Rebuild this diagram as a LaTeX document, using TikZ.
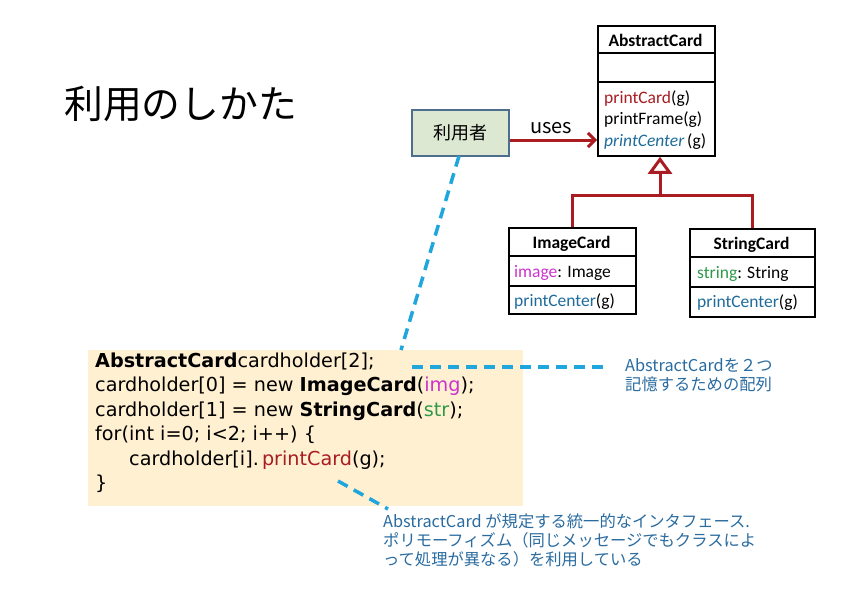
\documentclass[tikz,border=0pt]{standalone}
\usepackage{fontspec}
\setmainfont{Carlito}
\newfontfamily\jp{Noto Sans CJK JP}
\newfontfamily\codefont{DejaVu Sans}
\usetikzlibrary{arrows.meta}
\definecolor{umlred}{HTML}{A81C22}
\definecolor{mblue}{HTML}{1F6C9C}
\definecolor{dashblue}{HTML}{1EA6DD}
\definecolor{notecol}{HTML}{2A6CA0}
\definecolor{mag}{HTML}{CC33CC}
\definecolor{grn}{HTML}{2E9949}
\definecolor{codebg}{HTML}{FFF0D2}
\definecolor{userbg}{HTML}{DDE8D3}
\definecolor{userbd}{HTML}{4E6E8E}
\begin{document}
\begin{tikzpicture}[x=1pt,y=-1pt,
  umlbox/.style={draw=black, line width=1.8pt, inner sep=0pt, anchor=north west},
  divider/.style={draw=black, line width=1.8pt},
  umltxt/.style={inner sep=0pt, anchor=base west, font=\fontsize{17.5}{20}\selectfont},
  umltitle/.style={inner sep=0pt, anchor=base, font=\bfseries\fontsize{17.5}{20}\selectfont},
  codeline/.style={inner sep=0pt, anchor=base west, font=\codefont\fontsize{19.2}{22}\selectfont},
  noteline/.style={inner sep=0pt, anchor=base west, text=notecol, font=\jp\fontsize{16.3}{19}\selectfont},
  relline/.style={draw=umlred, line width=3pt},
  hint/.style={draw=dashblue, line width=3.5pt, dash pattern=on 11pt off 7pt}
]
\useasboundingbox (0,0) rectangle (842,595);
\fill[white] (0,0) rectangle (842,595);

% title
\node[inner sep=0pt, anchor=base west, font=\jp\fontsize{38.8}{42}\selectfont] (title) at (64,118) {利用のしかた};

% user
\node[draw=userbd, fill=userbg, line width=1.5pt, minimum width=97pt, minimum height=46pt, inner sep=0pt, anchor=north west, font=\jp\fontsize{18}{20}\selectfont] (user) at (411,109) {利用者};

% AbstractCard
\node[umlbox, minimum width=117pt, minimum height=130pt] (abs) at (597,25) {};
\draw[divider] (597,53) -- (714,53);
\draw[divider] (597,82) -- (714,82);
\node[umltitle] (absname) at (655.5,46) {AbstractCard};
\node[umltxt] (absm1) at (604,103) {\textcolor{umlred}{printCard}(g)};
\node[umltxt] (absm2) at (604,124.5) {printFrame(g)};
\node[umltxt] (absm3) at (604,146) {\textcolor{mblue}{\itshape printCenter}\,(g)};

% uses arrow
\coordinate (usesend) at (597,140);
\draw[relline, -{Straight Barb[length=7pt,width=14pt,line width=3pt]}] (user.east |- usesend) -- (usesend);
\node[inner sep=0pt, anchor=base, font=\jp\fontsize{20}{22}\selectfont] (uses) at (551,133) {uses};

% ImageCard
\node[umlbox, minimum width=127pt, minimum height=86pt] (img) at (508,227) {};
\draw[divider] (508,256) -- (635,256);
\draw[divider] (508,286) -- (635,286);
\node[umltitle] (imgname) at (571.5,248) {ImageCard};
\node[umltxt] (imga) at (514,277) {\textcolor{mag}{image}: Image};
\node[umltxt] (imgm) at (514,306) {\textcolor{mblue}{printCenter}(g)};

% StringCard
\node[umlbox, minimum width=125pt, minimum height=88pt] (str) at (689,228) {};
\draw[divider] (689,257) -- (814,257);
\draw[divider] (689,287) -- (814,287);
\node[umltitle] (strname) at (751.5,249) {StringCard};
\node[umltxt] (stra) at (697,278) {\textcolor{grn}{string}: String};
\node[umltxt] (strm) at (697,307) {\textcolor{mblue}{printCenter}(g)};

% inheritance
\coordinate (join) at (660,195);
\draw[relline] (img.north) |- (join);
\draw[relline] (str.north) |- (join);
\draw[relline, -{Triangle[open,length=17pt,width=24pt,line width=3pt,fill=white]}] (join) -- (abs.south -| join);

% code box
\node[fill=codebg, minimum width=435pt, minimum height=156pt, inner sep=0pt, anchor=north west] (code) at (88,350) {};
\node[codeline] (c1) at (95,367) {\textbf{AbstractCard}cardholder[2];};
\node[codeline] (c2) at (95,391.5) {cardholder[0] = new \textbf{ImageCard}(\textcolor{mag}{img});};
\node[codeline] (c3) at (95,416) {cardholder[1] = new \textbf{StringCard}(\textcolor{grn}{str});};
\node[codeline] (c4) at (95,440.5) {for(int i=0; i<2; i++) \{};
\node[codeline] (c5) at (129,465) {cardholder[i].\,\textcolor{umlred}{printCard}(g);};
\node[codeline] (c6) at (95,489.5) {\}};

% notes
\node[noteline] (n1a) at (625,371) {AbstractCardを２つ};
\node[noteline] (n1b) at (625,390) {記憶するための配列};
\node[noteline] (n2a) at (383,527) {AbstractCard が規定する統一的なインタフェース.};
\node[noteline] (n2b) at (383,546) {ポリモーフィズム（同じメッセージでもクラスによ};
\node[noteline] (n2c) at (383,565) {って処理が異なる）を利用している};

% hint lines
\coordinate (usertip) at (459,156);
\coordinate (codetop) at (401,350);
\draw[hint] (usertip) -- (codetop);
\coordinate (h1s) at (412,367);
\coordinate (h1e) at (610,367);
\draw[hint] (h1s) -- (h1e);
\coordinate (h2s) at (338,481);
\coordinate (h2e) at (388,509);
\draw[hint] (h2s) -- (h2e);
\end{tikzpicture}
\end{document}
